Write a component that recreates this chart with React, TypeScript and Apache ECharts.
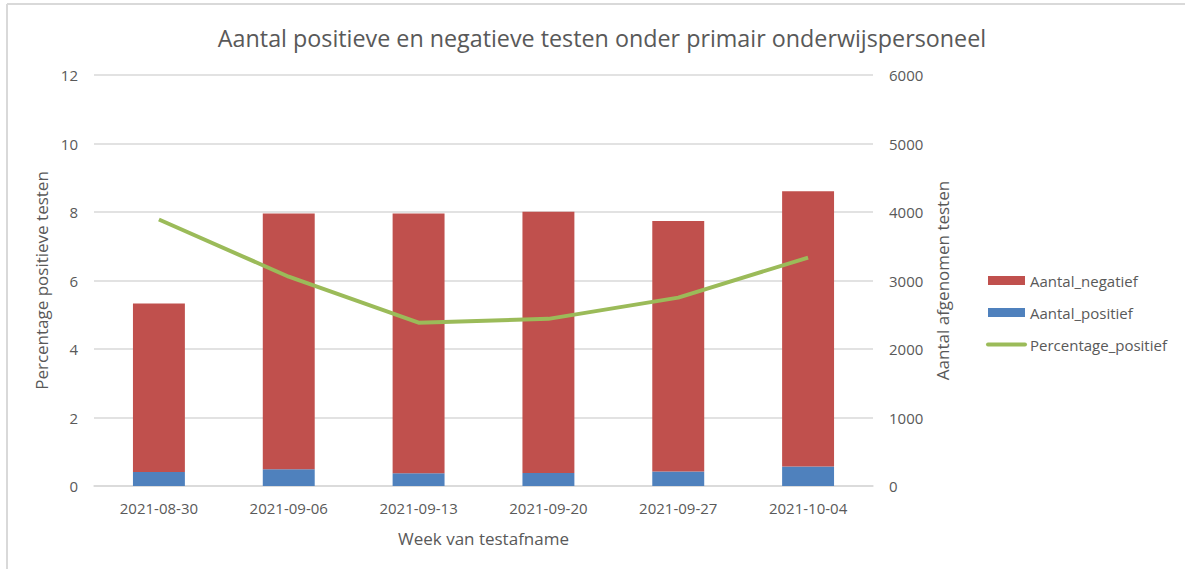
import React, { useEffect, useRef } from "react";
import * as echarts from "echarts";

const weeks = ["2021-08-30", "2021-09-06", "2021-09-13", "2021-09-20", "2021-09-27", "2021-10-04"];
const aantalPositief = [204, 243, 185, 190, 210, 285];
const aantalNegatief = [2461, 3735, 3793, 3812, 3660, 4018];
const percentagePositief = [7.78, 6.11, 4.77, 4.88, 5.5, 6.67];

const FONT = "'Open Sans', sans-serif";
const GREY = "#595959";

export default function App() {
  const ref = useRef<HTMLDivElement>(null);
  useEffect(() => {
    document.body.style.margin = "0";
    const chart = echarts.init(ref.current!, null, { renderer: "svg" });
    chart.setOption({
      animation: false,
      textStyle: { fontFamily: FONT },
      title: {
        text: "Aantal positieve en negatieve testen onder primair onderwijspersoneel",
        left: 597,
        textAlign: "center",
        top: 21,
        textStyle: { fontFamily: FONT, fontSize: 23.3, fontWeight: "normal", color: GREY },
      },
      graphic: [
        { type: "line", shape: { x1: 7, y1: 4, x2: 1185, y2: 4 }, style: { stroke: "#d9d9d9", lineWidth: 2 } },
        { type: "line", shape: { x1: 7, y1: 4, x2: 7, y2: 569 }, style: { stroke: "#d9d9d9", lineWidth: 2 } },
      ],
      legend: {
        orient: "vertical",
        left: 981,
        top: 268,
        itemWidth: 37,
        itemHeight: 9,
        itemGap: 17,
        textStyle: { fontFamily: FONT, fontSize: 15, color: GREY },
        data: [
          { name: "Aantal_negatief", icon: "rect" },
          { name: "Aantal_positief", icon: "rect" },
          { name: "Percentage_positief", itemStyle: { opacity: 0 }, lineStyle: { width: 4, cap: "round" } },
        ],
      },
      grid: { left: 94, right: 312, top: 75, bottom: 83 },
      xAxis: {
        type: "category",
        data: weeks,
        name: "Week van testafname",
        nameLocation: "middle",
        nameGap: 44,
        nameTextStyle: { fontFamily: FONT, fontSize: 17, color: GREY },
        axisLine: { lineStyle: { color: "#d9d9d9", width: 1.5 } },
        axisTick: { show: false },
        axisLabel: { fontFamily: FONT, fontSize: 15, color: GREY, margin: 14 },
      },
      yAxis: [
        {
          type: "value",
          min: 0,
          max: 12,
          interval: 2,
          name: "Percentage positieve testen",
          nameLocation: "middle",
          nameRotate: 90,
          nameGap: 42,
          nameTextStyle: { fontFamily: FONT, fontSize: 17, color: GREY },
          axisLine: { show: false },
          axisTick: { show: false },
          axisLabel: { fontFamily: FONT, fontSize: 15, color: GREY, margin: 16 },
          splitLine: { lineStyle: { color: "#d9d9d9", width: 1.5 } },
        },
        {
          type: "value",
          min: 0,
          max: 6000,
          interval: 1000,
          name: "Aantal afgenomen testen",
          nameLocation: "middle",
          nameRotate: 90,
          nameGap: 60,
          nameTextStyle: { fontFamily: FONT, fontSize: 17, color: GREY },
          axisLine: { show: false },
          axisTick: { show: false },
          axisLabel: { fontFamily: FONT, fontSize: 15, color: GREY, margin: 16, formatter: (v: number) => String(v) },
          splitLine: { show: false },
        },
      ],
      series: [
        {
          name: "Aantal_positief",
          type: "bar",
          stack: "total",
          yAxisIndex: 1,
          barWidth: "40%",
          data: aantalPositief,
          itemStyle: { color: "#4F81BD" },
        },
        {
          name: "Aantal_negatief",
          type: "bar",
          stack: "total",
          yAxisIndex: 1,
          barWidth: "40%",
          data: aantalNegatief,
          itemStyle: { color: "#C0504D" },
        },
        {
          name: "Percentage_positief",
          type: "line",
          yAxisIndex: 0,
          data: percentagePositief,
          symbol: "none",
          lineStyle: { color: "#9BBB59", width: 4 },
          itemStyle: { color: "#9BBB59" },
        },
      ],
    });
    return () => chart.dispose();
  }, []);
  return <div ref={ref} style={{ width: 1185, height: 569 }} />;
}
